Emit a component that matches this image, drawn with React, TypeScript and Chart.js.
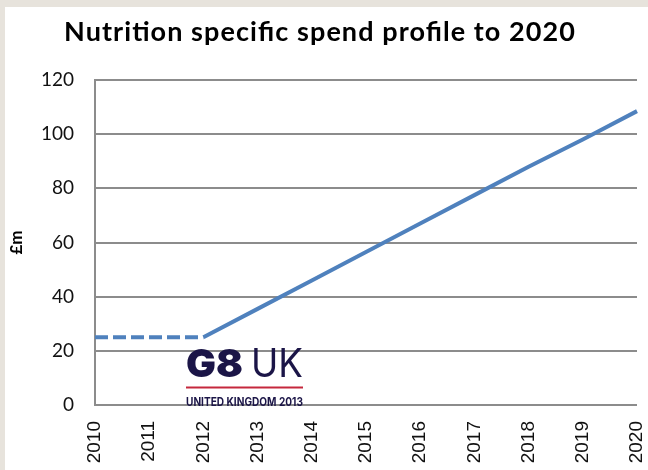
import React, { useEffect, useRef } from "react";
import { Chart, registerables } from "chart.js";

Chart.register(...registerables);

const years = ["2010", "2011", "2012", "2013", "2014", "2015", "2016", "2017", "2018", "2019", "2020"];
const historicSpend = [25, 25, 25, null, null, null, null, null, null, null, null];
const plannedSpend = [null, null, 25, 35.5, 46, 56.5, 67, 77.5, 88, 98, 108.5];
const yTicks = { min: 0, max: 120, step: 20 };
const titleText = "Nutrition specific spend profile to 2020";
const yAxisTitle = "£m";

const LINE = "#4f81bd";
const GRID = "#8c8c8c";

export default function App() {
  const canvasRef = useRef<HTMLCanvasElement | null>(null);

  useEffect(() => {
    const canvas = canvasRef.current;
    if (!canvas) return;
    const chart = new Chart(canvas, {
      type: "line",
      data: {
        labels: years,
        datasets: [
          {
            label: "Historic",
            data: historicSpend,
            borderColor: LINE,
            borderWidth: 4,
            borderDash: [13, 5],
            pointRadius: 0,
            fill: false,
            spanGaps: false,
          },
          {
            label: "Planned",
            data: plannedSpend,
            borderColor: LINE,
            borderWidth: 4,
            pointRadius: 0,
            fill: false,
            spanGaps: false,
          },
        ],
      },
      options: {
        animation: false,
        responsive: false,
        devicePixelRatio: 1,
        layout: { padding: { left: 0, right: 11, top: 80, bottom: 0 } },
        plugins: { legend: { display: false }, tooltip: { enabled: false }, title: { display: false } },
        scales: {
          x: {
            type: "category",
            offset: false,
            grid: { display: false, drawTicks: false },
            border: { display: false },
            ticks: {
              minRotation: 90,
              maxRotation: 90,
              padding: 16,
              color: "#111",
              font: { family: "Liberation Sans", size: 19 },
              autoSkip: false,
            },
            afterFit: (s: any) => {
              s.height = 65;
              s.paddingLeft = 0;
              s.paddingRight = 0;
            },
          },
          y: {
            min: yTicks.min,
            max: yTicks.max,
            ticks: {
              stepSize: yTicks.step,
              padding: 21,
              color: "#111",
              font: { family: "Lato", size: 19 },
            },
            grid: { color: GRID, lineWidth: 2, drawTicks: false },
            border: { display: true, color: GRID, width: 2 },
            title: {
              display: true,
              text: yAxisTitle,
              color: "#000",
              font: { family: "Lato", size: 17, weight: "bold" },
              padding: { top: 6, bottom: 0 },
            },
            afterFit: (s: any) => {
              s.width = 95;
            },
          },
        },
      },
    });
    return () => chart.destroy();
  }, []);

  return (
    <div style={{ position: "fixed", left: 0, top: 0, width: 648, height: 470, background: "#e7e3dc", overflow: "hidden" }}>
      <div style={{ position: "absolute", left: 5, top: 7, width: 643, height: 463, background: "#ffffff" }} />
      <canvas ref={canvasRef} width={648} height={470} style={{ position: "absolute", left: 0, top: 0, width: 648, height: 470 }} />
      <svg width={648} height={470} style={{ position: "absolute", left: 0, top: 0, pointerEvents: "none" }}>
        <text x={64} y={41} fontFamily="Lato" fontWeight={700} fontSize={27} fill="#000" textLength={511} lengthAdjust="spacing">
          {titleText}
        </text>
        <text x={186} y={377} fontFamily="Inter" fontWeight={900} fontSize={39} fill="#1b1547" textLength={57} lengthAdjust="spacingAndGlyphs">
          G8
        </text>
        <text x={251} y={377} fontFamily="Inter" fontWeight={400} fontSize={39} fill="#1b1547" textLength={52} lengthAdjust="spacingAndGlyphs">
          UK
        </text>
        <rect x={186} y={386.5} width={117} height={2} fill="#c5283d" />
        <text x={186} y={406} fontFamily="Inter" fontWeight={700} fontSize={12} fill="#1b1547" textLength={117} lengthAdjust="spacingAndGlyphs">
          UNITED KINGDOM 2013
        </text>
      </svg>
    </div>
  );
}
